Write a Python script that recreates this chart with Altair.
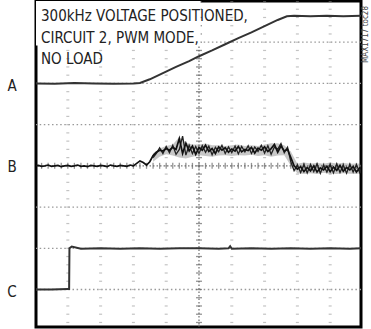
import altair as alt
import pandas as pd

# Screen geometry in graticule divisions (10 x 8 grid, slightly cropped by the frame)
X_DOMAIN = [0.03, 9.94]
Y_DOMAIN = [0.09, 8.0]
W, H = 325, 326

# Trace A: output voltage ramp
a_t = [0.03, 0.6, 1.2, 1.8, 2.4, 3.0, 3.2, 3.5, 3.9, 4.3, 4.7, 5.0, 5.4, 5.8,
       6.2, 6.6, 7.0, 7.4, 7.68, 7.9, 8.4, 8.9, 9.4, 9.94]
a_v = [6.00, 5.99, 6.01, 6.00, 5.99, 6.00, 6.01, 6.10, 6.25, 6.40, 6.54, 6.66,
       6.80, 6.95, 7.10, 7.24, 7.39, 7.54, 7.63, 7.64, 7.63, 7.64, 7.63, 7.64]

# Trace B: sampled every 0.1 div
b_t = [round(0.1 * i, 1) for i in range(100)] + [9.94]
b_v = [4.00, 4.01, 3.99, 4.00, 4.02, 3.99, 4.00, 4.01, 3.98, 4.00,
       4.01, 3.99, 4.00, 4.02, 3.99, 4.00, 3.98, 4.01, 4.00, 3.99,
       4.01, 4.00, 3.98, 4.02, 4.00, 3.99, 4.01, 4.00, 3.99, 4.02,
       4.00, 4.06, 4.12, 4.08, 4.02, 4.10, 4.25, 4.33, 4.38, 4.36,
       4.42, 4.38, 4.45, 4.40, 4.66, 4.30, 4.55, 4.36, 4.48, 4.28,
       4.45, 4.38, 4.50, 4.35, 4.42, 4.30, 4.46, 4.38, 4.44, 4.33,
       4.41, 4.36, 4.47, 4.34, 4.40, 4.37, 4.45, 4.31, 4.43, 4.38,
       4.46, 4.35, 4.42, 4.52, 4.33, 4.48, 4.36, 4.40, 4.20, 4.00,
       3.92, 3.98, 3.86, 3.96, 3.88, 4.00, 3.85, 3.95, 3.90, 3.99,
       3.86, 3.97, 3.89, 4.01, 3.87, 3.96, 3.90, 3.98, 3.85, 3.95, 3.92]

# Trace B, second sweep over the noisy section (persistence)
b2_t = [round(3.6 + 0.1 * i, 1) for i in range(64)] + [9.94]
b2_v = [4.20, 4.30, 4.44, 4.30,
        4.47, 4.32, 4.50, 4.28, 4.40, 4.72, 4.26, 4.50, 4.30, 4.47,
        4.30, 4.49, 4.33, 4.48, 4.27, 4.45, 4.34, 4.50, 4.30, 4.46,
        4.32, 4.48, 4.29, 4.47, 4.34, 4.49, 4.30, 4.46, 4.35, 4.50,
        4.31, 4.49, 4.28, 4.46, 4.40, 4.54, 4.32, 4.45, 4.10, 3.88,
        4.02, 3.84, 4.04, 3.83, 4.03, 3.86, 4.05, 3.82, 4.02, 3.85,
        4.04, 3.83, 4.05, 3.84, 4.02, 3.82, 4.04, 3.85, 4.03, 3.84, 3.96]

# Trace B noise envelope
env_t = [3.6, 3.8, 4.0, 4.2, 4.4, 4.6, 4.8, 5.0, 5.2, 5.4, 5.6, 5.8, 6.0, 6.2,
         6.4, 6.6, 6.8, 7.0, 7.2, 7.4, 7.6, 7.8, 8.0, 8.2, 8.4, 8.6, 8.8, 9.0,
         9.2, 9.4, 9.6, 9.8, 9.94]
env_hi = [4.30, 4.42, 4.48, 4.52, 4.70, 4.56, 4.52, 4.52, 4.54, 4.50, 4.50,
          4.48, 4.50, 4.52, 4.48, 4.50, 4.48, 4.52, 4.55, 4.55, 4.50, 4.35,
          4.05, 4.08, 4.06, 4.07, 4.05, 4.08, 4.06, 4.07, 4.05, 4.06, 4.05]
env_lo = [4.10, 4.22, 4.28, 4.25, 4.20, 4.18, 4.22, 4.26, 4.24, 4.22, 4.25,
          4.26, 4.24, 4.26, 4.25, 4.27, 4.24, 4.26, 4.22, 4.25, 4.26, 4.00,
          3.82, 3.80, 3.82, 3.80, 3.83, 3.81, 3.80, 3.82, 3.81, 3.80, 3.82]

# Trace C: enable / logic step
c_t = [0.03, 0.5, 1.0, 1.04, 1.05, 1.12, 1.4, 2.0, 2.6, 3.2, 3.8, 4.4, 5.0,
       5.6, 5.9, 5.95, 6.0, 6.6, 7.2, 7.8, 8.4, 9.0, 9.6, 9.94]
c_v = [1.00, 1.00, 1.01, 1.01, 2.00, 2.04, 1.99, 2.00, 1.99, 2.00, 1.99, 2.00,
       2.00, 1.99, 2.00, 2.05, 1.99, 2.00, 1.99, 2.00, 1.99, 2.00, 1.99, 2.00]

title_lines = ["300kHz VOLTAGE POSITIONED,", "CIRCUIT 2, PWM MODE,", "NO LOAD"]
channel_names = ["A", "B", "C"]
channel_label_y = [85, 166, 291]

FONT = "Liberation Sans Narrow, DejaVu Sans Condensed, sans-serif"

xs = alt.Scale(domain=X_DOMAIN, nice=False, zero=False)
ys = alt.Scale(domain=Y_DOMAIN, nice=False, zero=False)


def X(f):
    return alt.X(f, type="quantitative", scale=xs, axis=None)


def Y(f):
    return alt.Y(f, type="quantitative", scale=ys, axis=None)


# Graticule
hlines = pd.DataFrame({"y": [1, 2, 3, 5, 6, 7]})
vticks = pd.DataFrame([{"x": gx, "y": round(0.2 * k, 1)}
                       for gx in [1, 2, 3, 4, 6, 7, 8, 9] for k in range(41)])
cv_ticks = pd.DataFrame([{"x": 5, "y": round(0.2 * k, 1)} for k in range(41)])
ch_ticks = pd.DataFrame([{"x": round(0.2 * k, 1), "y": 4} for k in range(51)])

h_grid = alt.Chart(hlines).mark_rule(color="#999", strokeWidth=1.3,
                                     strokeDash=[1.5, 2.6]).encode(y=Y("y"))
v_grid = alt.Chart(vticks).mark_tick(orient="horizontal", size=3, thickness=1.2,
                                     color="#aaa", clip=True).encode(x=X("x"), y=Y("y"))
center_v = alt.Chart(pd.DataFrame({"x": [5]})).mark_rule(
    color="#777", strokeWidth=1.3, strokeDash=[1.5, 2]).encode(x=X("x"))
center_v_ticks = alt.Chart(cv_ticks).mark_tick(orient="horizontal", size=6, thickness=1.3,
                                               color="#666", clip=True).encode(x=X("x"), y=Y("y"))
center_h = alt.Chart(pd.DataFrame({"y": [4]})).mark_rule(
    color="#777", strokeWidth=1.3, strokeDash=[1.5, 2]).encode(y=Y("y"))
center_h_ticks = alt.Chart(ch_ticks).mark_tick(orient="vertical", size=6, thickness=1.3,
                                               color="#666", clip=True).encode(x=X("x"), y=Y("y"))

# Blank panel behind the annotation
note_bg = alt.Chart(pd.DataFrame({"x": [0.03], "x2": [5.05], "y": [6.92], "y2": [8.0]})).mark_rect(
    color="white").encode(x=X("x"), x2="x2", y=Y("y"), y2="y2")

trace_a = alt.Chart(pd.DataFrame({"t": a_t, "v": a_v})).mark_line(
    color="#333", strokeWidth=2, clip=True).encode(x=X("t"), y=Y("v"))
band_b = alt.Chart(pd.DataFrame({"t": env_t, "lo": env_lo, "hi": env_hi})).mark_area(
    color="#444", opacity=0.3, clip=True).encode(x=X("t"), y=Y("lo"), y2="hi")
trace_b2 = alt.Chart(pd.DataFrame({"t": b2_t, "v": b2_v})).mark_line(
    color="#222", strokeWidth=1.3, clip=True).encode(x=X("t"), y=Y("v"))
trace_b = alt.Chart(pd.DataFrame({"t": b_t, "v": b_v})).mark_line(
    color="#111", strokeWidth=1.7, clip=True).encode(x=X("t"), y=Y("v"))
trace_c = alt.Chart(pd.DataFrame({"t": c_t, "v": c_v})).mark_line(
    color="#333", strokeWidth=2, clip=True).encode(x=X("t"), y=Y("v"))

one = pd.DataFrame({"k": [0]})
note = [alt.Chart(one).mark_text(text=line, font=FONT, fontSize=15, color="#222",
                                 align="left", baseline="alphabetic").encode(
    x=alt.value(5), y=alt.value(20 + 21.5 * i)) for i, line in enumerate(title_lines)]
ch_labels = [alt.Chart(one).mark_text(text=name, font=FONT, fontSize=15, color="#222",
                                      align="center", baseline="middle").encode(
    x=alt.value(-24), y=alt.value(py)) for name, py in zip(channel_names, channel_label_y)]
figure_id = alt.Chart(one).mark_text(text="MAX1717 toc28", font=FONT, fontSize=8,
                                     color="#444", angle=270, align="left",
                                     baseline="middle").encode(
    x=alt.value(330), y=alt.value(62))

chart = alt.layer(
    h_grid, v_grid, center_v, center_v_ticks, center_h, center_h_ticks,
    note_bg, trace_a, band_b, trace_b2, trace_b, trace_c, *note, *ch_labels, figure_id
).properties(
    width=W, height=H,
    autosize=alt.AutoSizeParams(type="none"),
    padding={"left": 36, "top": 1, "right": 10, "bottom": 2},
    background="white",
).configure_view(stroke="black", strokeWidth=3)

chart.save("out.html", embed_options={"renderer": "svg", "actions": False})
